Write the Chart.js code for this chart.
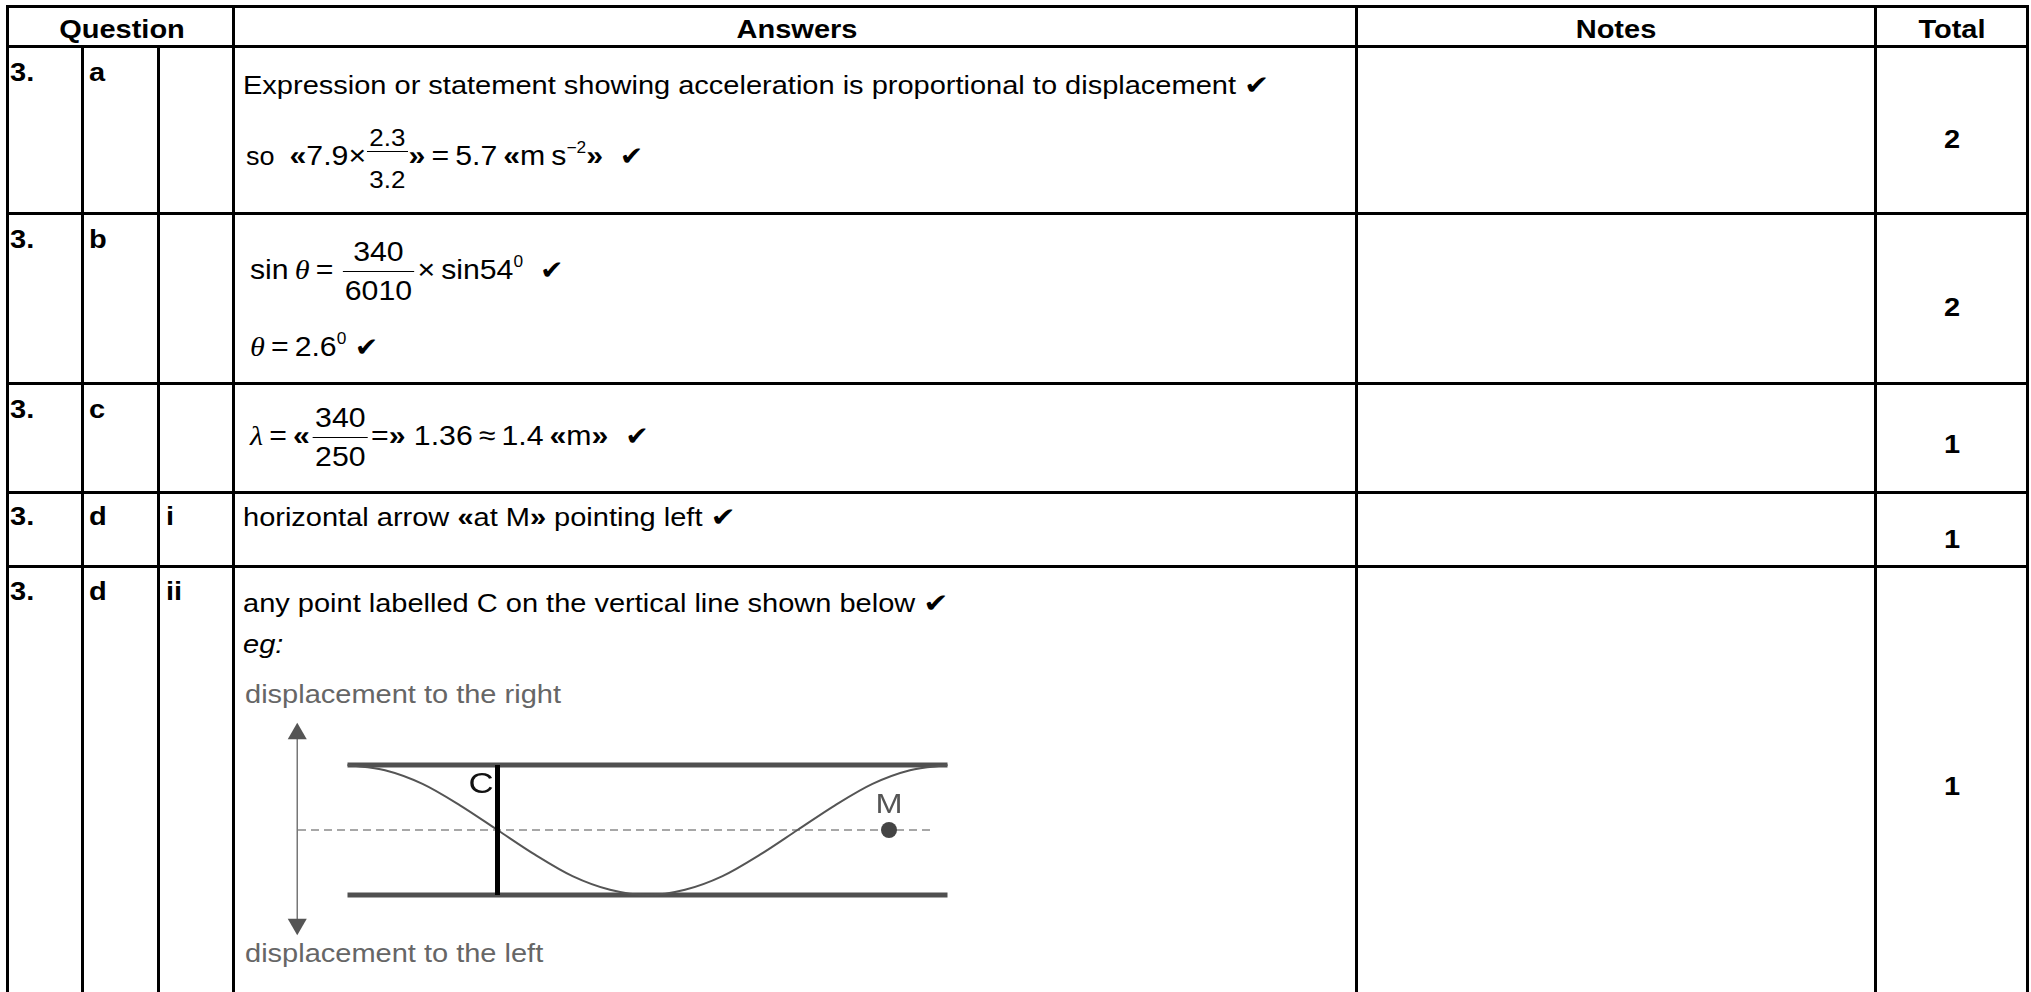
<!DOCTYPE html>
<html>
<head>
<meta charset="utf-8">
<script src="https://cdn.jsdelivr.net/npm/chart.js@4.4.1/dist/chart.umd.min.js"></script>
<style>
  html, body { margin: 0; padding: 0; background: #fff; }
  body { width: 2031px; height: 992px; overflow: hidden; position: relative;
         font-family: "Liberation Sans", Arial, sans-serif; color: #000; }
  .hl { position: absolute; height: 3px; background: #000; left: 6px; width: 2023px; }
  .vl { position: absolute; width: 3px; background: #000; bottom: 0; }
  .t { position: absolute; white-space: nowrap; font-size: 25px; line-height: 120px;
       transform: scaleX(1.16); transform-origin: 0 0; }
  .t.f { transform: scaleX(1.08); }
  .c { width: 300px; text-align: center; transform-origin: 150px 0; }
  .b { font-weight: bold; }
  .grey { color: #666; }
  .m { font-size: 28px; line-height: 0; }
  .g { font-family: "Liberation Serif", "Times New Roman", serif; font-style: italic; }
  .m sup { font-size: 16px; line-height: 0; vertical-align: 12px; }
  .chk { font-family: "DejaVu Sans", sans-serif; font-size: 26px; line-height: 0; }
  .frac { display: inline-block; text-align: center; vertical-align: -21px; margin: 0 3px; }
  .frac .num { display: block; line-height: 28px; padding: 0 2px 5px; border-bottom: 1.5px solid #000; }
  .frac .den { display: block; line-height: 28px; padding: 5px 2px 0; }
  .frac.sm { font-size: 24px; vertical-align: -23px; margin: 0 1px; }
  .frac.sm .num { line-height: 24px; padding-bottom: 1px; }
  .frac.sm .den { line-height: 24px; padding-top: 16px; }
  #wave { position: absolute; left: 250px; top: 700px; }
</style>
</head>
<body>

<!-- grid -->
<div class="hl" style="top:5px"></div>
<div class="hl" style="top:45px"></div>
<div class="hl" style="top:212px"></div>
<div class="hl" style="top:382px"></div>
<div class="hl" style="top:491px"></div>
<div class="hl" style="top:565px"></div>
<div class="vl" style="left:6px;top:5px"></div>
<div class="vl" style="left:81px;top:45px"></div>
<div class="vl" style="left:157px;top:45px"></div>
<div class="vl" style="left:232px;top:5px"></div>
<div class="vl" style="left:1355px;top:5px"></div>
<div class="vl" style="left:1874px;top:5px"></div>
<div class="vl" style="left:2026px;top:5px"></div>

<!-- header -->
<div class="t c b" style="left:-28px;top:-31px">Question</div>
<div class="t c b" style="left:647px;top:-31px">Answers</div>
<div class="t c b" style="left:1466px;top:-31px">Notes</div>
<div class="t c b" style="left:1802px;top:-31px">Total</div>

<!-- row a -->
<div class="t b" style="left:10px;top:12px">3.</div>
<div class="t b" style="left:89px;top:12px">a</div>
<div class="t" style="left:243px;top:25px">Expression or statement showing acceleration is proportional to displacement <span class="chk">✔</span></div>
<div class="t f" style="left:246px;top:96px">so&nbsp;&nbsp;<span class="m"><b>«</b>7.9×<span class="frac sm"><span class="num">2.3</span><span class="den">3.2</span></span><b>»</b>&#8201;=&#8201;5.7&#8201;<b>«</b>m&#8201;s<sup>−2</sup><b>»</b>&nbsp; <span class="chk">✔</span></span></div>
<div class="t c b" style="left:1802px;top:79px">2</div>

<!-- row b -->
<div class="t b" style="left:10px;top:179px">3.</div>
<div class="t b" style="left:89px;top:179px">b</div>
<div class="t f" style="left:250px;top:210px"><span class="m">sin&#8201;<span class="g">θ</span>&#8201;=&#8201;<span class="frac"><span class="num">340</span><span class="den">6010</span></span>×&#8201;sin54<sup>0</sup>&nbsp; <span class="chk">✔</span></span></div>
<div class="t f" style="left:250px;top:287px"><span class="m"><span class="g">θ</span>&#8201;=&#8201;2.6<sup>0</sup>&nbsp;<span class="chk">✔</span></span></div>
<div class="t c b" style="left:1802px;top:247px">2</div>

<!-- row c -->
<div class="t b" style="left:10px;top:349px">3.</div>
<div class="t b" style="left:89px;top:349px">c</div>
<div class="t f" style="left:250px;top:376px"><span class="m"><span class="g">λ</span>&#8201;=&#8201;<b>«</b><span class="frac"><span class="num">340</span><span class="den">250</span></span>=<b>»</b> 1.36&#8201;≈&#8201;1.4&#8201;<b>«</b>m<b>»</b>&nbsp; <span class="chk">✔</span></span></div>
<div class="t c b" style="left:1802px;top:384px">1</div>

<!-- row d i -->
<div class="t b" style="left:10px;top:456px">3.</div>
<div class="t b" style="left:89px;top:456px">d</div>
<div class="t b" style="left:166px;top:456px">i</div>
<div class="t" style="left:243px;top:457px">horizontal arrow <b>«</b>at M<b>»</b> pointing left <span class="chk">✔</span></div>
<div class="t c b" style="left:1802px;top:479px">1</div>

<!-- row d ii -->
<div class="t b" style="left:10px;top:531px">3.</div>
<div class="t b" style="left:89px;top:531px">d</div>
<div class="t b" style="left:166px;top:531px">ii</div>
<div class="t" style="left:243px;top:543px">any point labelled C on the vertical line shown below <span class="chk">✔</span></div>
<div class="t" style="left:243px;top:584px"><i>eg:</i></div>
<div class="t grey" style="left:245px;top:634px">displacement to the right</div>
<div class="t grey" style="left:245px;top:893px">displacement to the left</div>
<div class="t c b" style="left:1802px;top:726px">1</div>

<canvas id="wave" width="720" height="260"></canvas>

<script>
// string shape: position along string (x) and displacement (y)
const waveX = [0, 0.5, 1, 1.5, 2, 2.5, 3, 3.5, 4, 4.5, 5, 5.5, 6, 6.5, 7, 7.5, 8];
const waveY = [1, 0.92, 0.71, 0.38, 0, -0.38, -0.71, -0.92, -1, -0.92, -0.71, -0.38, 0, 0.38, 0.71, 0.92, 1];

// maximum displacement lines and the equilibrium line
const edgeX = [0, 8];
const topY = 1;
const bottomY = -1;
const midX = [-0.66, 7.79];

// vertical line through C, point M, displacement arrow
const lineC = { x: 2, y: [1, -1] };
const pointM = { x: 7.22, y: 0 };
const arrowX = -0.67;
const arrowY = [1.48, -1.45];

// labels on the diagram
const waveLabels = ['C', 'M'];
const labelX = [1.78, 7.22];
const labelY = [0.69, 0.38];

const labelPlugin = {
    id: 'waveLabels',
    afterDatasetsDraw(chart) {
        const { ctx, scales: { x, y } } = chart;
        ctx.save();
        ctx.textAlign = 'center';
        ctx.textBaseline = 'middle';
        waveLabels.forEach((text, i) => {
            ctx.save();
            ctx.font = i === 0 ? '30px "Liberation Sans", Arial' : '28px "Liberation Sans", Arial';
            ctx.fillStyle = i === 0 ? '#111' : '#555';
            ctx.translate(x.getPixelForValue(labelX[i]), y.getPixelForValue(labelY[i]));
            ctx.scale(1.16, 1);
            ctx.fillText(text, 0, 0);
            ctx.restore();
        });
        ctx.restore();
    }
};

const canvasRef = document.getElementById('wave').getContext('2d');

new Chart(canvasRef, {
    type: 'line',
    data: {
        datasets: [
            {
                label: 'equilibrium',
                data: midX.map(v => ({ x: v, y: 0 })),
                borderColor: '#8a8a8a',
                borderWidth: 1.5,
                borderDash: [8, 5],
                pointRadius: 0,
                order: 6
            },
            {
                label: 'top',
                data: edgeX.map(v => ({ x: v, y: topY })),
                borderColor: '#505050',
                borderWidth: 5,
                pointRadius: 0,
                order: 5
            },
            {
                label: 'bottom',
                data: edgeX.map(v => ({ x: v, y: bottomY })),
                borderColor: '#505050',
                borderWidth: 5,
                pointRadius: 0,
                order: 5
            },
            {
                label: 'string',
                data: waveX.map((v, i) => ({ x: v, y: waveY[i] })),
                borderColor: '#555',
                borderWidth: 2,
                cubicInterpolationMode: 'monotone',
                pointRadius: 0,
                order: 4
            },
            {
                label: 'C',
                data: lineC.y.map(v => ({ x: lineC.x, y: v })),
                borderColor: '#000',
                borderWidth: 5,
                pointRadius: 0,
                order: 3
            },
            {
                label: 'arrow',
                data: arrowY.map(v => ({ x: arrowX, y: v })),
                borderColor: '#777',
                borderWidth: 1.5,
                pointStyle: 'triangle',
                pointRadius: 11,
                pointRotation: [0, 180],
                pointBackgroundColor: '#555',
                pointBorderWidth: 0,
                order: 2
            },
            {
                label: 'M',
                data: [pointM],
                pointStyle: 'circle',
                pointRadius: 8,
                pointBackgroundColor: '#444',
                pointBorderWidth: 0,
                showLine: false,
                order: 1
            }
        ]
    },
    options: {
        responsive: false,
        animation: false,
        devicePixelRatio: 1,
        events: [],
        layout: { padding: 0, autoPadding: false },
        plugins: {
            legend: { display: false },
            tooltip: { enabled: false }
        },
        scales: {
            x: { type: 'linear', min: -1.3, max: 8.3, display: false },
            y: { min: -2, max: 2, display: false }
        }
    },
    plugins: [labelPlugin]
});
</script>
</body>
</html>
